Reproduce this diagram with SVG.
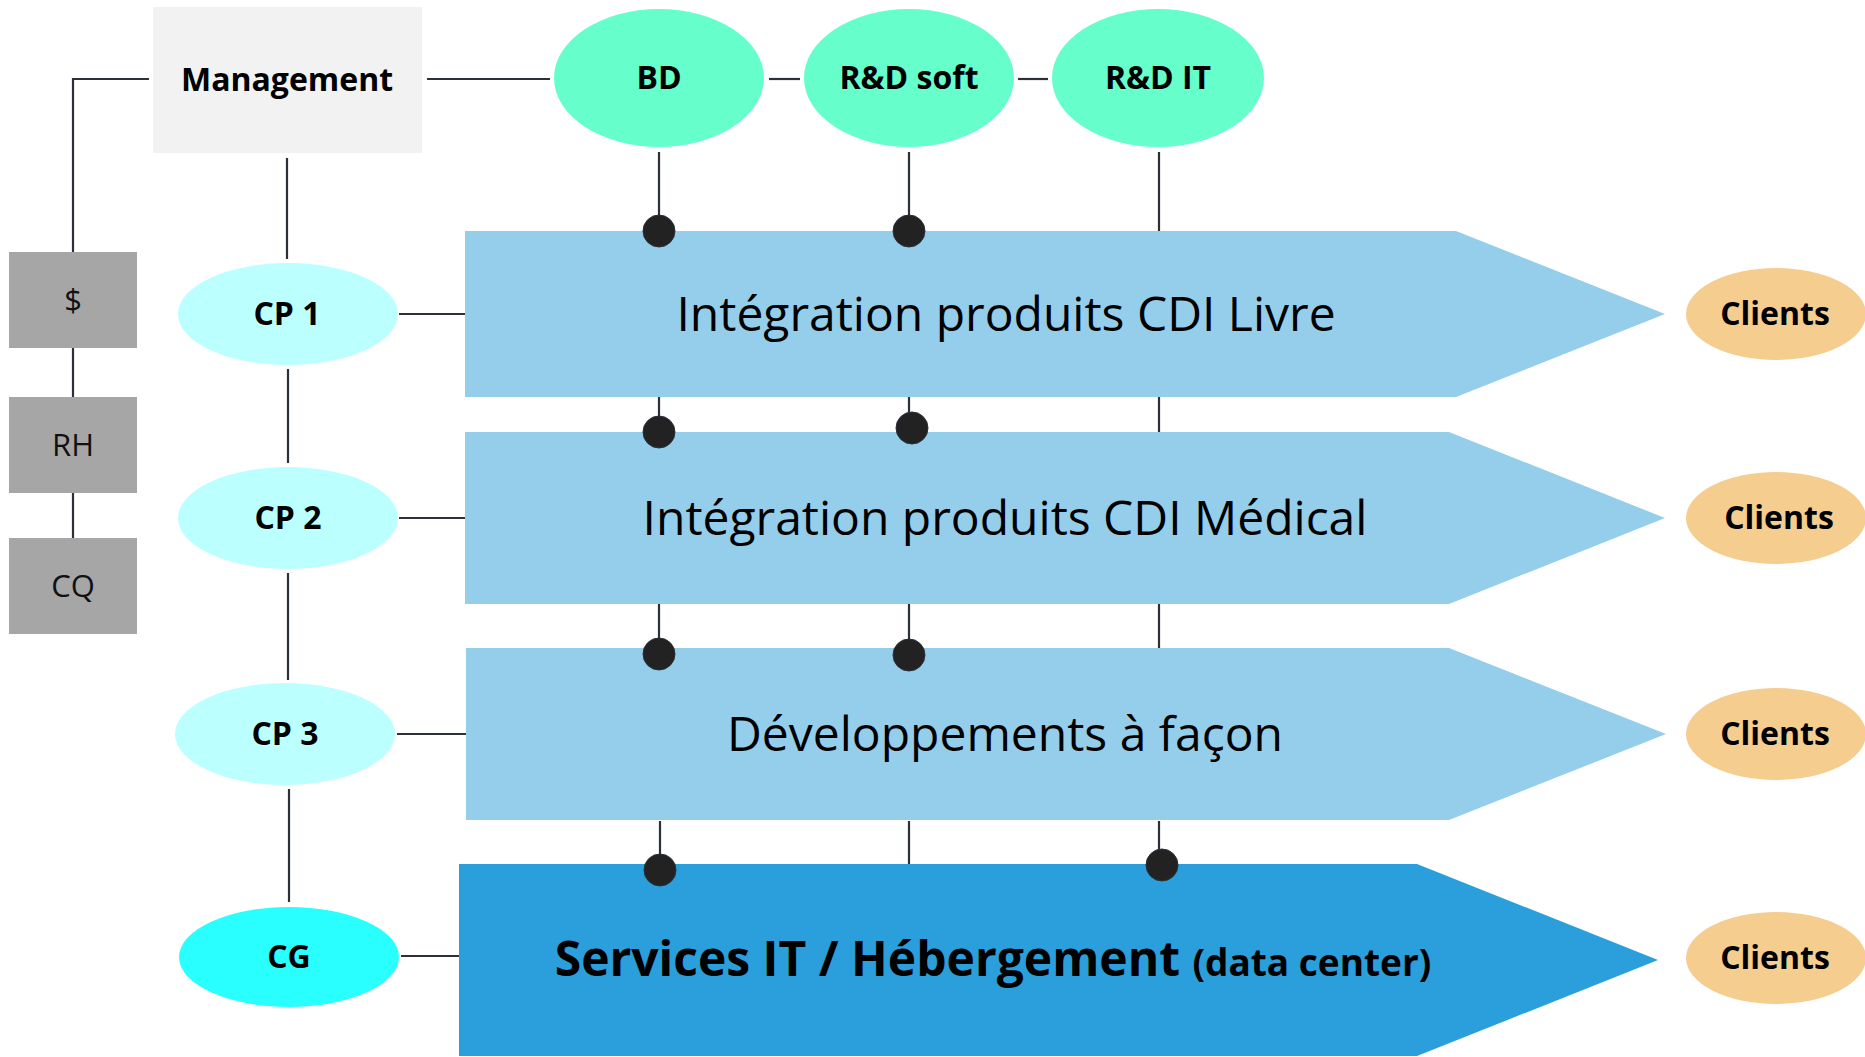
<svg xmlns="http://www.w3.org/2000/svg" width="1865" height="1057" viewBox="0 0 1865 1057">
  <style>
    text { font-family: "Open Sans", "Liberation Sans", sans-serif; fill: #000; text-anchor: middle; }
    .b { font-weight: 700; }
    .node32 { font-size: 32px; font-weight: 700; }
    .side { font-size: 31px; font-weight: 400; fill: #111; }
    .band { font-size: 48px; font-weight: 400; }
    .wire { stroke: #2b303b; stroke-width: 2.2; fill: none; }
    .dot { fill: #222; stroke: #2b303b; stroke-width: 1; }
    .grey { fill: #a6a6a6; }
    .rd { fill: #66ffcc; }
    .cp { fill: #bbffff; }
    .client { fill: #f5cd8f; }
    .lane { fill: #95ceeb; }
  </style>

  <!-- connectors -->
  <g id="connectors">
    <path class="wire" d="M149 79 H73 V252"/>
    <path class="wire" d="M73 348 V397"/>
    <path class="wire" d="M73 493 V538"/>
    <path class="wire" d="M427 79 H550"/>
    <path class="wire" d="M769 79 H800"/>
    <path class="wire" d="M1018 79 H1048"/>
    <path class="wire" d="M287 158 V259"/>
    <path class="wire" d="M288 369 V463"/>
    <path class="wire" d="M288 573 V680"/>
    <path class="wire" d="M289 789 V902"/>
    <path class="wire" d="M399 314 H465"/>
    <path class="wire" d="M399 518 H465"/>
    <path class="wire" d="M397 734 H466"/>
    <path class="wire" d="M401 956 H459"/>
    <!-- BD column -->
    <path class="wire" d="M659 152 V231 M659 397 V432 M659 604 V654 M660 821 V870"/>
    <!-- R&D soft column -->
    <path class="wire" d="M909 152 V231 M909 397 V428 M909 604 V655 M909 821 V864"/>
    <!-- R&D IT column -->
    <path class="wire" d="M1159 152 V231 M1159 397 V432 M1159 604 V648 M1159 821 V865"/>
  </g>

  <!-- lanes -->
  <g id="lane1">
    <polygon class="lane" points="465,231 1456,231 1665,314 1456,397 465,397"/>
    <text class="band" x="1006" y="331">Intégration produits CDI Livre</text>
  </g>
  <g id="lane2">
    <polygon class="lane" points="465,432 1449,432 1665,518 1449,604 465,604"/>
    <text class="band" x="1005" y="535">Intégration produits CDI Médical</text>
  </g>
  <g id="lane3">
    <polygon class="lane" points="466,648 1449,648 1666,734 1449,820 466,820"/>
    <text class="band" x="1005" y="751">Développements à façon</text>
  </g>
  <g id="lane4">
    <polygon fill="#2a9fdb" points="459,864 1417,864 1658,960 1417,1056 459,1056"/>
    <text x="993" y="976" class="b" font-size="48"><tspan>Services IT / Hébergement </tspan><tspan font-size="37">(data center)</tspan></text>
  </g>

  <!-- junction dots -->
  <g id="dots">
    <circle class="dot" cx="659" cy="231" r="16"/>
    <circle class="dot" cx="909" cy="231" r="16"/>
    <circle class="dot" cx="659" cy="432" r="16"/>
    <circle class="dot" cx="912" cy="428" r="16"/>
    <circle class="dot" cx="659" cy="654" r="16"/>
    <circle class="dot" cx="909" cy="655" r="16"/>
    <circle class="dot" cx="660" cy="870" r="16"/>
    <circle class="dot" cx="1162" cy="865" r="16"/>
  </g>

  <!-- management and support -->
  <g id="management">
    <rect x="153" y="7" width="269" height="146" fill="#f2f2f2"/>
    <text class="node32" x="287" y="91">Management</text>
  </g>
  <g id="finance">
    <rect class="grey" x="9" y="252" width="128" height="96"/>
    <text class="side" x="73" y="311">$</text>
  </g>
  <g id="rh">
    <rect class="grey" x="9" y="397" width="128" height="96"/>
    <text class="side" x="73" y="456">RH</text>
  </g>
  <g id="cq">
    <rect class="grey" x="9" y="538" width="128" height="96"/>
    <text class="side" x="73" y="597">CQ</text>
  </g>

  <!-- R&D -->
  <g id="bd">
    <ellipse class="rd" cx="659" cy="78" rx="105" ry="69"/>
    <text class="node32" x="659" y="89">BD</text>
  </g>
  <g id="rd-soft">
    <ellipse class="rd" cx="909" cy="78" rx="105" ry="69"/>
    <text class="node32" x="909" y="89">R&amp;D soft</text>
  </g>
  <g id="rd-it">
    <ellipse class="rd" cx="1158" cy="78" rx="106" ry="69"/>
    <text class="node32" x="1158" y="89">R&amp;D IT</text>
  </g>

  <!-- project leads -->
  <g id="cp1">
    <ellipse class="cp" cx="288" cy="314" rx="110" ry="51"/>
    <text class="node32" x="287" y="325">CP 1</text>
  </g>
  <g id="cp2">
    <ellipse class="cp" cx="288" cy="518" rx="110" ry="51"/>
    <text class="node32" x="288" y="529">CP 2</text>
  </g>
  <g id="cp3">
    <ellipse class="cp" cx="285" cy="734" rx="110" ry="51"/>
    <text class="node32" x="285" y="745">CP 3</text>
  </g>
  <g id="cg">
    <ellipse fill="#2affff" cx="289" cy="957" rx="110" ry="50"/>
    <text class="node32" x="289" y="968">CG</text>
  </g>

  <!-- clients -->
  <g id="clients1">
    <ellipse class="client" cx="1776" cy="314" rx="90" ry="46"/>
    <text class="node32" x="1775" y="325">Clients</text>
  </g>
  <g id="clients2">
    <ellipse class="client" cx="1776" cy="518" rx="90" ry="46"/>
    <text class="node32" x="1779" y="529">Clients</text>
  </g>
  <g id="clients3">
    <ellipse class="client" cx="1776" cy="734" rx="90" ry="46"/>
    <text class="node32" x="1775" y="745">Clients</text>
  </g>
  <g id="clients4">
    <ellipse class="client" cx="1776" cy="958" rx="90" ry="46"/>
    <text class="node32" x="1775" y="969">Clients</text>
  </g>
</svg>
